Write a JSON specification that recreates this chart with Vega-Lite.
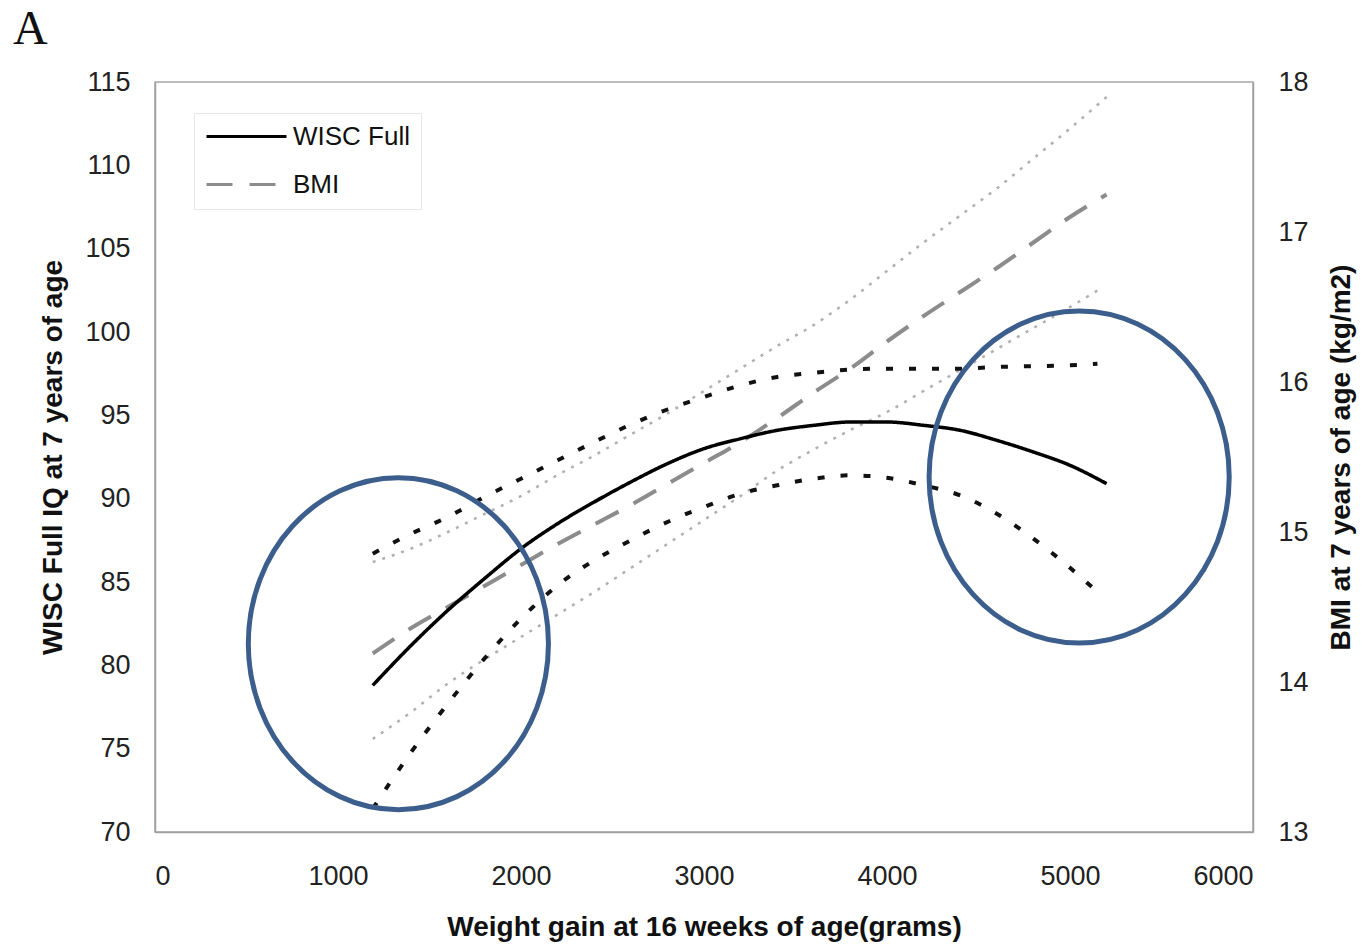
{
  "$schema": "https://vega.github.io/schema/vega-lite/v6.json",
  "width": 1098,
  "height": 750,
  "autosize": {"type": "none"},
  "padding": {"left": 155, "top": 82, "right": 110, "bottom": 114},
  "background": "white",
  "config": {
    "view": {"stroke": "#a6a6a6", "strokeWidth": 1.5},
    "font": "Liberation Sans",
    "axis": {
      "labelFont": "Liberation Sans",
      "titleFont": "Liberation Sans",
      "labelColor": "#222222",
      "titleColor": "#111111",
      "domainColor": "#a0a0a0",
      "domainWidth": 1.5,
      "ticks": false,
      "grid": false,
      "labelFontSize": 27,
      "titleFontSize": 28,
      "titleFontWeight": "bold"
    },
    "legend": {
      "title": null,
      "orient": "none",
      "legendX": 39,
      "legendY": 31,
      "padding": 11,
      "strokeColor": "#e6e6e6",
      "fillColor": "white",
      "symbolType": "stroke",
      "symbolSize": 6400,
      "symbolStrokeWidth": 3,
      "clipHeight": 25,
      "labelFont": "Liberation Sans",
      "labelFontSize": 26,
      "labelColor": "#111111",
      "labelOffset": 5,
      "rowPadding": 21
    }
  },
  "title": {
    "text": "A",
    "anchor": "start",
    "frame": "group",
    "font": "Liberation Serif",
    "fontSize": 48,
    "fontWeight": "normal",
    "color": "#111111",
    "dx": -142,
    "dy": -10
  },
  "datasets": {
    "curves": [
      {"x": 1190, "s": "WISC Full", "v": 78.8},
      {"x": 1400, "s": "WISC Full", "v": 81.2},
      {"x": 1600, "s": "WISC Full", "v": 83.3},
      {"x": 1800, "s": "WISC Full", "v": 85.2},
      {"x": 2000, "s": "WISC Full", "v": 87.0},
      {"x": 2200, "s": "WISC Full", "v": 88.5},
      {"x": 2400, "s": "WISC Full", "v": 89.8},
      {"x": 2600, "s": "WISC Full", "v": 91.0},
      {"x": 2800, "s": "WISC Full", "v": 92.1},
      {"x": 3000, "s": "WISC Full", "v": 93.0},
      {"x": 3200, "s": "WISC Full", "v": 93.6},
      {"x": 3400, "s": "WISC Full", "v": 94.1},
      {"x": 3600, "s": "WISC Full", "v": 94.4},
      {"x": 3800, "s": "WISC Full", "v": 94.6},
      {"x": 4000, "s": "WISC Full", "v": 94.6},
      {"x": 4200, "s": "WISC Full", "v": 94.4},
      {"x": 4400, "s": "WISC Full", "v": 94.1},
      {"x": 4600, "s": "WISC Full", "v": 93.5},
      {"x": 4800, "s": "WISC Full", "v": 92.8},
      {"x": 5000, "s": "WISC Full", "v": 92.0},
      {"x": 5200, "s": "WISC Full", "v": 90.9},

      {"x": 1190, "s": "WISC upper", "v": 86.7},
      {"x": 1400, "s": "WISC upper", "v": 87.9},
      {"x": 1600, "s": "WISC upper", "v": 88.9},
      {"x": 1800, "s": "WISC upper", "v": 90.1},
      {"x": 2000, "s": "WISC upper", "v": 91.2},
      {"x": 2200, "s": "WISC upper", "v": 92.3},
      {"x": 2400, "s": "WISC upper", "v": 93.4},
      {"x": 2600, "s": "WISC upper", "v": 94.45},
      {"x": 2800, "s": "WISC upper", "v": 95.35},
      {"x": 3000, "s": "WISC upper", "v": 96.1},
      {"x": 3200, "s": "WISC upper", "v": 96.8},
      {"x": 3400, "s": "WISC upper", "v": 97.3},
      {"x": 3600, "s": "WISC upper", "v": 97.55},
      {"x": 3800, "s": "WISC upper", "v": 97.75},
      {"x": 4000, "s": "WISC upper", "v": 97.8},
      {"x": 4200, "s": "WISC upper", "v": 97.8},
      {"x": 4400, "s": "WISC upper", "v": 97.8},
      {"x": 4600, "s": "WISC upper", "v": 97.9},
      {"x": 4800, "s": "WISC upper", "v": 97.95},
      {"x": 5000, "s": "WISC upper", "v": 98.0},
      {"x": 5150, "s": "WISC upper", "v": 98.1},

      {"x": 1190, "s": "WISC lower", "v": 71.4},
      {"x": 1400, "s": "WISC lower", "v": 74.8},
      {"x": 1600, "s": "WISC lower", "v": 77.7},
      {"x": 1800, "s": "WISC lower", "v": 80.4},
      {"x": 2000, "s": "WISC lower", "v": 82.8},
      {"x": 2200, "s": "WISC lower", "v": 84.8},
      {"x": 2400, "s": "WISC lower", "v": 86.3},
      {"x": 2600, "s": "WISC lower", "v": 87.5},
      {"x": 2800, "s": "WISC lower", "v": 88.6},
      {"x": 3000, "s": "WISC lower", "v": 89.5},
      {"x": 3200, "s": "WISC lower", "v": 90.3},
      {"x": 3400, "s": "WISC lower", "v": 90.8},
      {"x": 3600, "s": "WISC lower", "v": 91.2},
      {"x": 3800, "s": "WISC lower", "v": 91.4},
      {"x": 4000, "s": "WISC lower", "v": 91.25},
      {"x": 4200, "s": "WISC lower", "v": 90.8},
      {"x": 4400, "s": "WISC lower", "v": 90.2},
      {"x": 4600, "s": "WISC lower", "v": 89.1},
      {"x": 4800, "s": "WISC lower", "v": 87.6},
      {"x": 5000, "s": "WISC lower", "v": 85.85},
      {"x": 5150, "s": "WISC lower", "v": 84.4},

      {"x": 1190, "s": "BMI", "v": 14.19},
      {"x": 1400, "s": "BMI", "v": 14.36},
      {"x": 1600, "s": "BMI", "v": 14.5},
      {"x": 1800, "s": "BMI", "v": 14.64},
      {"x": 2000, "s": "BMI", "v": 14.78},
      {"x": 2200, "s": "BMI", "v": 14.92},
      {"x": 2400, "s": "BMI", "v": 15.05},
      {"x": 2600, "s": "BMI", "v": 15.18},
      {"x": 2800, "s": "BMI", "v": 15.32},
      {"x": 3000, "s": "BMI", "v": 15.46},
      {"x": 3200, "s": "BMI", "v": 15.6},
      {"x": 3400, "s": "BMI", "v": 15.76},
      {"x": 3600, "s": "BMI", "v": 15.93},
      {"x": 3800, "s": "BMI", "v": 16.09},
      {"x": 4000, "s": "BMI", "v": 16.27},
      {"x": 4200, "s": "BMI", "v": 16.44},
      {"x": 4400, "s": "BMI", "v": 16.6},
      {"x": 4600, "s": "BMI", "v": 16.76},
      {"x": 4800, "s": "BMI", "v": 16.93},
      {"x": 5000, "s": "BMI", "v": 17.1},
      {"x": 5200, "s": "BMI", "v": 17.25},

      {"x": 1190, "s": "BMI upper", "v": 14.8},
      {"x": 1400, "s": "BMI upper", "v": 14.89},
      {"x": 1600, "s": "BMI upper", "v": 15.0},
      {"x": 1800, "s": "BMI upper", "v": 15.12},
      {"x": 2000, "s": "BMI upper", "v": 15.24},
      {"x": 2200, "s": "BMI upper", "v": 15.38},
      {"x": 2400, "s": "BMI upper", "v": 15.51},
      {"x": 2600, "s": "BMI upper", "v": 15.65},
      {"x": 2800, "s": "BMI upper", "v": 15.79},
      {"x": 3000, "s": "BMI upper", "v": 15.94},
      {"x": 3200, "s": "BMI upper", "v": 16.09},
      {"x": 3400, "s": "BMI upper", "v": 16.24},
      {"x": 3600, "s": "BMI upper", "v": 16.38},
      {"x": 3800, "s": "BMI upper", "v": 16.55},
      {"x": 4000, "s": "BMI upper", "v": 16.74},
      {"x": 4200, "s": "BMI upper", "v": 16.93},
      {"x": 4400, "s": "BMI upper", "v": 17.11},
      {"x": 4600, "s": "BMI upper", "v": 17.29},
      {"x": 4800, "s": "BMI upper", "v": 17.49},
      {"x": 5000, "s": "BMI upper", "v": 17.69},
      {"x": 5200, "s": "BMI upper", "v": 17.9},

      {"x": 1190, "s": "BMI lower", "v": 13.62},
      {"x": 1400, "s": "BMI lower", "v": 13.8},
      {"x": 1600, "s": "BMI lower", "v": 13.99},
      {"x": 1800, "s": "BMI lower", "v": 14.15},
      {"x": 2000, "s": "BMI lower", "v": 14.3},
      {"x": 2200, "s": "BMI lower", "v": 14.45},
      {"x": 2400, "s": "BMI lower", "v": 14.6},
      {"x": 2600, "s": "BMI lower", "v": 14.76},
      {"x": 2800, "s": "BMI lower", "v": 14.92},
      {"x": 3000, "s": "BMI lower", "v": 15.08},
      {"x": 3200, "s": "BMI lower", "v": 15.24},
      {"x": 3400, "s": "BMI lower", "v": 15.41},
      {"x": 3600, "s": "BMI lower", "v": 15.55},
      {"x": 3800, "s": "BMI lower", "v": 15.68},
      {"x": 4000, "s": "BMI lower", "v": 15.8},
      {"x": 4200, "s": "BMI lower", "v": 15.94},
      {"x": 4400, "s": "BMI lower", "v": 16.08},
      {"x": 4600, "s": "BMI lower", "v": 16.22},
      {"x": 4800, "s": "BMI lower", "v": 16.36},
      {"x": 5000, "s": "BMI lower", "v": 16.5},
      {"x": 5150, "s": "BMI lower", "v": 16.61}
    ],
    "rings": [
      {"x": 1330, "v": 81.3},
      {"x": 5050, "v": 91.3}
    ]
  },
  "encoding": {
    "x": {
      "field": "x",
      "type": "quantitative",
      "scale": {"domain": [0, 6000], "nice": false, "zero": false},
      "axis": {
        "title": "Weight gain at 16 weeks of age(grams)",
        "values": [0, 1000, 2000, 3000, 4000, 5000, 6000],
        "format": "d",
        "labelPadding": 31,
        "titlePadding": 24
      }
    }
  },
  "layer": [
    {
      "encoding": {
        "y": {
          "field": "v",
          "type": "quantitative",
          "scale": {"domain": [13, 18], "nice": false, "zero": false},
          "axis": {
            "orient": "right",
            "title": "BMI at 7 years of age (kg/m2)",
            "values": [13, 14, 15, 16, 17, 18],
            "labelPadding": 25,
            "titlePadding": 19,
            "titleAngle": 270,
            "titleBaseline": "top"
          }
        }
      },
      "layer": [
        {
          "data": {"name": "curves"},
          "transform": [{"filter": "datum.s === 'BMI upper' || datum.s === 'BMI lower'"}],
          "mark": {"type": "line", "interpolate": "monotone", "color": "#b0b0b0", "strokeWidth": 2.5, "strokeDash": [3, 7]},
          "encoding": {"detail": {"field": "s"}}
        },
        {
          "data": {"name": "curves"},
          "transform": [{"filter": "datum.s === 'BMI'"}],
          "mark": {"type": "line", "interpolate": "monotone", "strokeWidth": 4},
          "encoding": {
            "color": {
              "field": "s",
              "type": "nominal",
              "scale": {"domain": ["WISC Full", "BMI"], "range": ["#000000", "#8c8c8c"]},
              "legend": {"title": null}
            },
            "strokeDash": {
              "field": "s",
              "type": "nominal",
              "scale": {"domain": ["WISC Full", "BMI"], "range": [[1, 0], [26, 17]]},
              "legend": {"title": null}
            }
          }
        }
      ]
    },
    {
      "encoding": {
        "y": {
          "field": "v",
          "type": "quantitative",
          "scale": {"domain": [70, 115], "nice": false, "zero": false},
          "axis": {
            "orient": "left",
            "title": "WISC Full IQ at 7 years of age",
            "values": [70, 75, 80, 85, 90, 95, 100, 105, 110, 115],
            "labelPadding": 25,
            "titlePadding": 17
          }
        }
      },
      "layer": [
        {
          "data": {"name": "curves"},
          "transform": [{"filter": "datum.s === 'WISC upper' || datum.s === 'WISC lower'"}],
          "mark": {"type": "line", "interpolate": "monotone", "color": "#111111", "strokeWidth": 4, "strokeDash": [7, 16]},
          "encoding": {"detail": {"field": "s"}}
        },
        {
          "data": {"name": "curves"},
          "transform": [{"filter": "datum.s === 'WISC Full'"}],
          "mark": {"type": "line", "interpolate": "monotone", "strokeWidth": 3.5},
          "encoding": {
            "color": {
              "field": "s",
              "type": "nominal",
              "scale": {"domain": ["WISC Full", "BMI"], "range": ["#000000", "#8c8c8c"]},
              "legend": {"title": null}
            },
            "strokeDash": {
              "field": "s",
              "type": "nominal",
              "scale": {"domain": ["WISC Full", "BMI"], "range": [[1, 0], [26, 17]]},
              "legend": {"title": null}
            }
          }
        },
        {
          "data": {"name": "rings"},
          "mark": {
            "type": "point",
            "shape": "M -0.904 0 A 0.904 1 0 1 1 0.904 0 A 0.904 1 0 1 1 -0.904 0 Z",
            "size": 110224,
            "filled": false,
            "color": "#3b5e8c",
            "strokeWidth": 5,
            "opacity": 1
          }
        }
      ]
    }
  ],
  "resolve": {"scale": {"y": "independent"}}
}
